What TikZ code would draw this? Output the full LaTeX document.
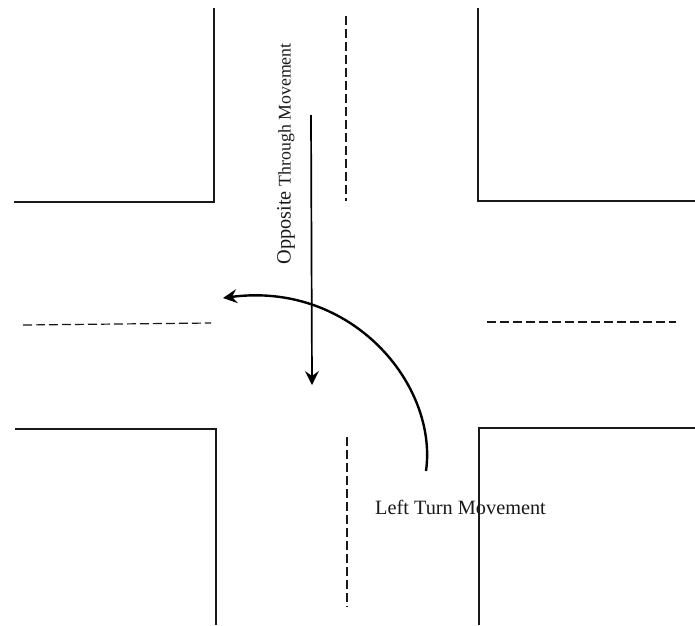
\documentclass[tikz,border=0pt]{standalone}
\usepackage{fontspec}
\setmainfont{Liberation Serif}
\usetikzlibrary{arrows.meta}
\tikzset{
  curb/.style={line width=1.4pt,black!90,line join=miter},
  lane/.style={line width=1.2pt,black!90,dash pattern=on 9pt off 4pt},
  move/.style={black,-{Stealth[length=14pt,width=14pt,inset=5pt]}},
  lbl/.style={inner sep=0pt,font=\fontsize{20.3pt}{22pt}\selectfont,text=black!90}
}
\begin{document}
\begin{tikzpicture}[x=1pt,y=-1pt]
\useasboundingbox (0,0) rectangle (695,625);
\coordinate (tla) at (214,8); \coordinate (tlb) at (214,202); \coordinate (tlc) at (14,202);
\coordinate (tra) at (478,8); \coordinate (trb) at (478,201); \coordinate (trc) at (695,201);
\coordinate (bla) at (15,429); \coordinate (blb) at (216,429); \coordinate (blc) at (216,625);
\coordinate (bra) at (695,428); \coordinate (brb) at (479,428); \coordinate (brc) at (479,625);
\draw[curb] (tla) -- (tlb) -- (tlc);
\draw[curb] (tra) -- (trb) -- (trc);
\draw[curb] (bla) -- (blb) -- (blc);
\draw[curb] (bra) -- (brb) -- (brc);
\coordinate (na) at (346,16); \coordinate (nb) at (346,201);
\coordinate (sa) at (347,437); \coordinate (sb) at (347,607);
\coordinate (wa) at (23,325); \coordinate (wb) at (211,323);
\coordinate (ea) at (487,322); \coordinate (eb) at (676,322);
\draw[lane] (na) -- (nb);
\draw[lane] (sa) -- (sb);
\draw[lane] (wa) -- (wb);
\draw[lane] (ea) -- (eb);
\coordinate (ta) at (311,115); \coordinate (tb) at (312,385);
\draw[move,line width=1.7pt] (ta) -- (tb);
\coordinate (la) at (426,471); \coordinate (lb) at (223,298);
\draw[move,line width=2.4pt] (la) .. controls (438,385) and (352,281) .. (lb);
\node[lbl,rotate=90,anchor=center] (opp) at (286,154) {Opposite {\fontsize{17.8pt}{22pt}\selectfont Through Movement}};
\node[lbl,anchor=west] (ltm) at (375,507) {Left Turn Movement};
\end{tikzpicture}
\end{document}
